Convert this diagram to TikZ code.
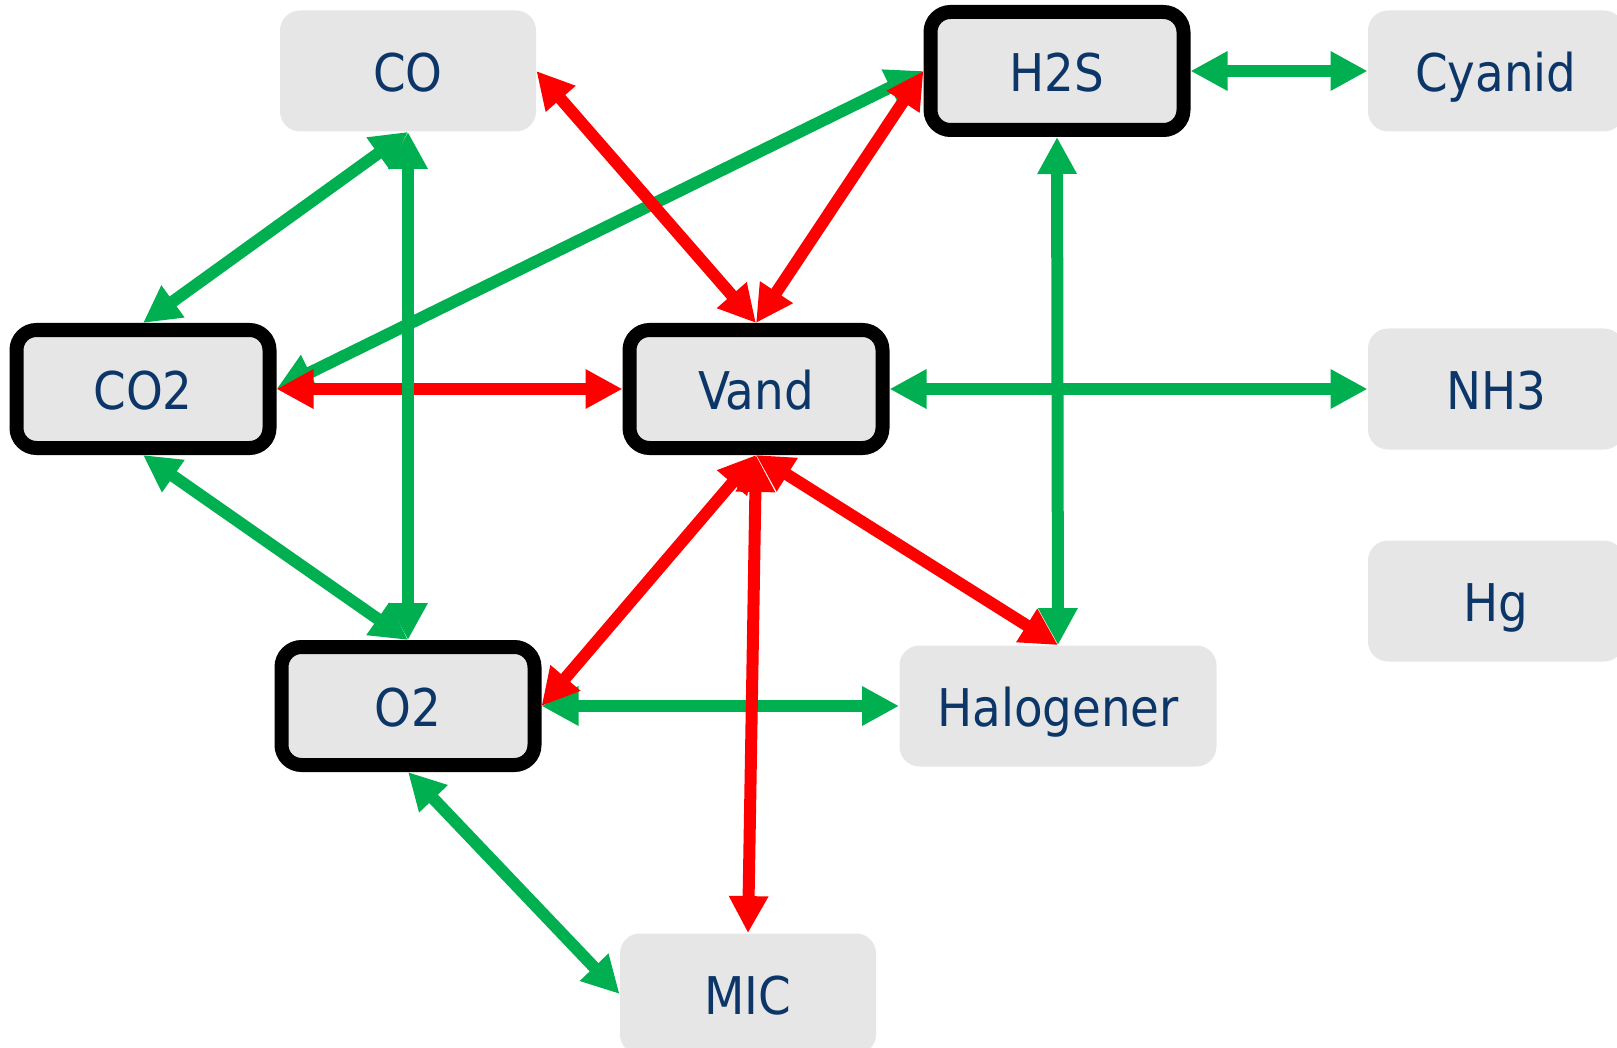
\documentclass[tikz,border=0pt]{standalone}
\usepackage{fontspec}
\setmainfont{DejaVu Sans Condensed}
\usetikzlibrary{arrows.meta}
\definecolor{gasgreen}{HTML}{00B050}
\definecolor{gasred}{HTML}{FF0000}
\definecolor{gasgray}{HTML}{E6E6E6}
\definecolor{gastext}{RGB}{12,54,104}

\begin{document}
\begin{tikzpicture}[x=0.5pt, y=-0.5pt, >={Triangle[length=18.5pt, width=18.5pt]},
            gas/.style={fill=gasgray, rounded corners=10pt, text=gastext, inner sep=0pt,
                minimum width=128pt, minimum height=60.5pt,
                font=\fontsize{26}{31}\selectfont, text height=20.5pt, text depth=0pt},
            key/.style={gas, draw=black, line width=7pt, minimum width=126.5pt, minimum height=59pt},
            gn/.style={draw=gasgreen, line width=6pt, <->},
            rd/.style={draw=gasred, line width=6pt, <->}]
            \useasboundingbox (0, 0) rectangle (1617, 1048);
            % gases
            \node[gas] (co)    at (408, 71)   {CO};
            \node[key] (hts)   at (1057, 71)  {H2S};
            \node[gas] (cyan)  at (1496, 71)  {Cyanid};
            \node[key] (cotwo) at (143, 389)  {CO2};
            \node[key] (vand)  at (756, 389)  {Vand};
            \node[gas] (nh)    at (1496, 389) {NH3};
            \node[gas] (hg)    at (1496, 601) {Hg};
            \node[key] (otwo)  at (408, 706)  {O2};
            \node[gas, minimum width=158.5pt] (halo) at (1058, 706) {Halogener};
            \node[gas] (mic)   at (748, 994)  {MIC};
            % green links
            \foreach \a/\b in {co.south/cotwo.north, hts.west/cotwo.east, hts.east/cyan.west,
                               hts.south/halo.north, vand.east/nh.west, cotwo.south/otwo.north,
                               otwo.east/halo.west, otwo.south/mic.west}
            {
                \draw[gn] (\a) -- (\b);
            }
            % red links
            \foreach \a/\b in {co.east/vand.north, hts.west/vand.north, cotwo.east/vand.west,
                               vand.south/otwo.east, vand.south/mic.north, vand.south/halo.north}
            {
                \draw[rd] (\a) -- (\b);
            }
            \draw[gn] (co.south) -- (otwo.north);
        \end{tikzpicture}
\end{document}
